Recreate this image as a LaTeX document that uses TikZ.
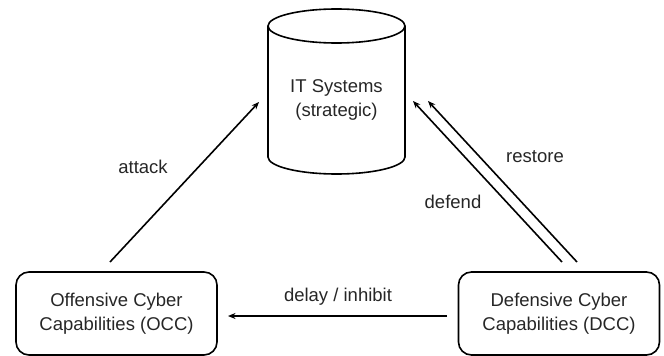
\documentclass[tikz,border=0pt]{standalone}
\usepackage{fontspec}
\setmainfont{Liberation Sans}
\usetikzlibrary{arrows.meta}
\begin{document}
\begin{tikzpicture}[x=1pt,y=-1pt,
  txt/.style={font=\fontsize{18.5}{24.5}\selectfont, text=black!85, align=center},
  capbox/.style={draw, line width=1.6pt, rounded corners=13pt, minimum width=201pt, minimum height=83pt, inner sep=0pt, txt},
  arr/.style={line width=1.6pt, -{Stealth[length=7.5pt,width=6pt]}},
  lbl/.style={txt}]
\useasboundingbox (0,0) rectangle (664,356);
% cylinder
\draw[line width=1.6pt] (336.5,26) ellipse [x radius=68.5pt, y radius=17pt];
\draw[line width=1.6pt] (268,26) -- (268,157) arc[start angle=180, end angle=360, x radius=68.5pt, y radius=17pt] -- (405,26);
\node[txt] (it) at (336.5,100) {IT Systems\\(strategic)};
% boxes
\node[capbox] (occ) at (116.5,313.5) {Offensive Cyber\\Capabilities (OCC)};
\node[capbox] (dcc) at (559,313.5) {Defensive Cyber\\Capabilities (DCC)};
% connector ends
\coordinate (aS) at (110,262);
\coordinate (aE) at (259,102);
\coordinate (dS) at (562,262);
\coordinate (dE) at (413,101);
\coordinate (rS) at (577,262);
\coordinate (rE) at (428,101);
\coordinate (iS) at (447,316);
\coordinate (iE) at (228,316);
\draw[arr] (aS) -- (aE);
\draw[arr] (dS) -- (dE);
\draw[arr] (rS) -- (rE);
\draw[arr] (iS) -- (iE);
\node[lbl] (la) at (143,167) {attack};
\node[lbl] (lr) at (535,157) {restore};
\node[lbl] (ld) at (453,202) {defend};
\node[lbl] (li) at (338,297) {delay / inhibit};
\end{tikzpicture}
\end{document}
